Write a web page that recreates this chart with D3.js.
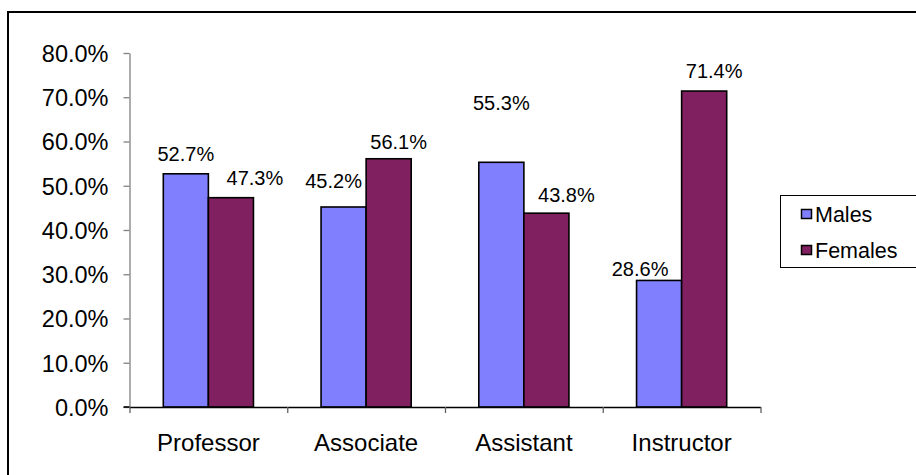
<!DOCTYPE html>
<html>
<head>
<meta charset="utf-8">
<script src="https://cdn.jsdelivr.net/npm/d3@7/dist/d3.min.js"></script>
<style>
  html, body { margin: 0; padding: 0; background: #fff; }
  svg { display: block; }
  text { font-family: "Liberation Sans", Arial, sans-serif; fill: #000; }
</style>
</head>
<body>
<svg id="chart" width="916" height="475"></svg>
<script>
// Share of faculty by rank and gender
const categories = ["Professor", "Associate", "Assistant", "Instructor"];
const seriesNames = ["Males", "Females"];
const males   = [52.7, 45.2, 55.3, 28.6];
const females = [47.3, 56.1, 43.8, 71.4];
const yTicks  = [0, 10, 20, 30, 40, 50, 60, 70, 80];

// Hand placement of the value labels, [dx, dy] per category and series
const labelNudge = [
  [[0, 0], [24, 0]],
  [[-10, -6], [10, 3]],
  [[0, -39], [20, 2]],
  [[-19, 8], [10, 0]]
];

const colors = { Males: "#8080FF", Females: "#802060" };
const rows = categories.map((c, i) => ({ category: c, values: [males[i], females[i]] }));

const svg = d3.select("#chart");
const W = 916, H = 475;

// outer chart frame
svg.append("rect")
  .attr("x", 8).attr("y", 12)
  .attr("width", W).attr("height", H)
  .attr("fill", "#fff").attr("stroke", "#000").attr("stroke-width", 2);

const plot = { left: 129.5, right: 760.5, top: 53, bottom: 407 };

const y = d3.scaleLinear().domain([0, 80]).range([plot.bottom, plot.top]);
const gapRatio = 1.5 / 3.5;
const x0 = d3.scaleBand().domain(categories)
  .range([plot.left, plot.right])
  .paddingInner(gapRatio).paddingOuter(gapRatio / 2);
const x1 = d3.scaleBand().domain(seriesNames).range([0, x0.bandwidth()]);
const xEdges = d3.scaleLinear().domain([0, categories.length]).range([plot.left, plot.right]);

// y axis
const yAxis = svg.append("g")
  .attr("transform", `translate(${plot.left},0)`)
  .call(d3.axisLeft(y).tickValues(yTicks).tickSize(6).tickSizeOuter(0)
    .tickPadding(15).tickFormat(d => d.toFixed(1) + "%"));
yAxis.select(".domain").attr("stroke", "#808080").attr("stroke-width", 1.3);
yAxis.selectAll(".tick line").attr("stroke", "#808080").attr("stroke-width", 1.3);
yAxis.selectAll(".tick text")
  .attr("font-size", 23.5).attr("font-family", "Liberation Sans, Arial, sans-serif")
  .attr("fill", "#000").attr("dy", "0.36em");

// bars
const groups = svg.append("g").selectAll("g")
  .data(rows).join("g")
  .attr("transform", d => `translate(${x0(d.category)},0)`);

groups.selectAll("rect")
  .data(d => d.values.map((v, j) => ({ name: seriesNames[j], value: v })))
  .join("rect")
  .attr("x", d => x1(d.name))
  .attr("y", d => y(d.value))
  .attr("width", x1.bandwidth())
  .attr("height", d => y(0) - y(d.value))
  .attr("fill", d => colors[d.name])
  .attr("stroke", "#000").attr("stroke-width", 1.6);

// x axis: category boundary ticks
const xAxis = svg.append("g")
  .attr("transform", `translate(0,${plot.bottom})`)
  .call(d3.axisBottom(xEdges).ticks(categories.length).tickSize(6).tickSizeOuter(0).tickFormat(""));
xAxis.select(".domain").attr("stroke", "#000").attr("stroke-width", 1.6);
xAxis.selectAll(".tick line").attr("stroke", "#606060").attr("stroke-width", 1.3);
// start the baseline at the left tick
svg.append("line")
  .attr("x1", plot.left - 6).attr("x2", plot.left)
  .attr("y1", plot.bottom).attr("y2", plot.bottom)
  .attr("stroke", "#000").attr("stroke-width", 1.6);

// category labels
const catAxis = svg.append("g")
  .attr("transform", `translate(0,${plot.bottom})`)
  .call(d3.axisBottom(x0).tickSize(0).tickPadding(27));
catAxis.select(".domain").remove();
catAxis.selectAll(".tick text")
  .attr("font-size", 24).attr("font-family", "Liberation Sans, Arial, sans-serif")
  .attr("fill", "#000");

// value labels
rows.forEach((r, i) => {
  r.values.forEach((v, j) => {
    const name = seriesNames[j];
    const cx = x0(r.category) + x1(name) + x1.bandwidth() / 2 + labelNudge[i][j][0];
    const cy = y(v) - 20 + labelNudge[i][j][1];
    svg.append("text")
      .attr("x", cx).attr("y", cy)
      .attr("text-anchor", "middle").attr("dy", "0.36em")
      .attr("font-size", 20)
      .text(v.toFixed(1) + "%");
  });
});

// legend
const legend = svg.append("g");
legend.append("rect")
  .attr("x", 780.5).attr("y", 195.5)
  .attr("width", 200).attr("height", 72)
  .attr("fill", "#fff").attr("stroke", "#000").attr("stroke-width", 1);
seriesNames.forEach((name, j) => {
  const rowY = 214 + j * 36;
  legend.append("rect")
    .attr("x", 801.5).attr("y", rowY - 4.5)
    .attr("width", 10).attr("height", 9)
    .attr("fill", colors[name]).attr("stroke", "#000").attr("stroke-width", 1.5);
  legend.append("text")
    .attr("x", 815).attr("y", rowY).attr("dy", "0.36em")
    .attr("font-size", 21.5)
    .text(name);
});
</script>
</body>
</html>
